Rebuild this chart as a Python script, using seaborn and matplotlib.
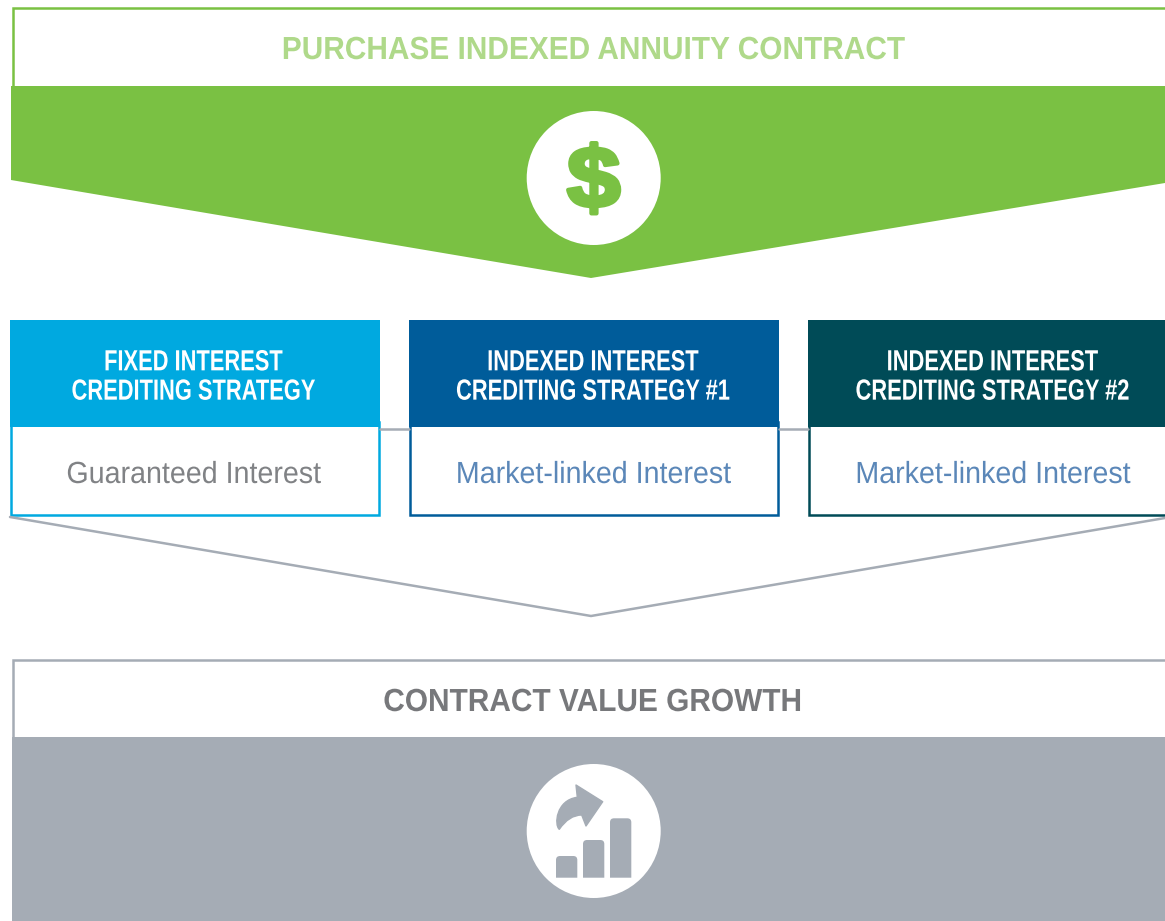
import matplotlib
matplotlib.use("Agg")
import matplotlib.pyplot as plt
import seaborn as sns
from matplotlib.patches import Rectangle, Polygon, Circle, PathPatch
from matplotlib.path import Path
from matplotlib.patheffects import AbstractPathEffect
from matplotlib.transforms import Affine2D

sns.set_theme(style="white")
plt.rcParams['font.family'] = ['Liberation Sans', 'DejaVu Sans']

GREEN = "#7AC143"
LIGHT_GREEN = "#AFD98A"
GREY = "#A5ACB5"

top_title = "PURCHASE INDEXED ANNUITY CONTRACT"
bottom_title = "CONTRACT VALUE GROWTH"
strategy_heads = ["FIXED INTEREST\nCREDITING STRATEGY",
                  "INDEXED INTEREST\nCREDITING STRATEGY #1",
                  "INDEXED INTEREST\nCREDITING STRATEGY #2"]
strategy_subs = ["Guaranteed Interest", "Market-linked Interest", "Market-linked Interest"]
strategy_colors = sns.color_palette(["#00A9E0", "#005C9A", "#004B57"])
sub_colors = ["#808285", "#5B87B8", "#5B87B8"]
box_left = [10, 409, 808]
box_right = [380, 779, 1170]
box_text_x = [193.5, 593, 992.5]


# the original type is condensed and there is no such font here, so squeeze the glyphs
class Squeeze(AbstractPathEffect):
    def __init__(self, cx, sx, stroke=0):
        super().__init__()
        self.cx = cx
        self.sx = sx
        self.stroke = stroke

    def draw_path(self, renderer, gc, tpath, affine, rgbFace=None):
        t = affine + Affine2D().translate(-self.cx, 0).scale(self.sx, 1).translate(self.cx, 0)
        if self.stroke:
            gc0 = renderer.new_gc()
            gc0.copy_properties(gc)
            gc0.set_linewidth(self.stroke)
            gc0.set_foreground(rgbFace)
            renderer.draw_path(gc0, tpath, t, rgbFace)
            gc0.restore()
        else:
            renderer.draw_path(gc, tpath, t, rgbFace)


fig = plt.figure(figsize=(11.65, 9.21), dpi=100)
ax = fig.add_axes([0, 0, 1, 1])
ax.set_xlim(0, 1165)
ax.set_ylim(921, 0)
ax.axis("off")


def put(x, y, s, sx=1.0, stroke=0, **kw):
    # x is in pixels and the axes fill the figure, so it is also the display coordinate
    ax.text(x, y, s, ha="center", va="center", path_effects=[Squeeze(x, sx, stroke)], **kw)


# top banner
ax.add_patch(Rectangle((12.5, 8.5), 1160, 80, fc="white", ec=GREEN, lw=1.8))
ax.add_patch(Polygon([(11, 86), (1165, 86), (1165, 183), (591, 278), (11, 180)], fc=GREEN, ec="none"))
put(594, 51, top_title, sx=0.934, color=LIGHT_GREEN, fontsize=23, weight="bold")
ax.add_patch(Circle((593.7, 178), 67, fc="white", ec="none"))
put(593.7, 185, "$", sx=1.12, stroke=3, color=GREEN, fontsize=62, weight="bold")

# connectors between boxes
ax.plot([380, 409], [429, 429], color=GREY, lw=1.8)
ax.plot([779, 808], [429, 429], color=GREY, lw=1.8)

# strategy boxes
for i in range(3):
    w = box_right[i] - box_left[i]
    ax.add_patch(Rectangle((box_left[i] + 1, 422), w - 2.5, 92.5, fc="white", ec=strategy_colors[i], lw=1.8))
    ax.add_patch(Rectangle((box_left[i], 320), w, 107, fc=strategy_colors[i], ec="none"))
    put(box_text_x[i], 377, strategy_heads[i], sx=0.75, color="white", fontsize=21,
        weight="bold", linespacing=1.06)
    put(box_text_x[i], 475, strategy_subs[i], sx=0.937, color=sub_colors[i], fontsize=22)

# chevron under the boxes
ax.plot([10, 591, 1165], [517, 616, 518], color=GREY, lw=1.8, solid_joinstyle="miter")

# bottom banner
ax.add_patch(Rectangle((13, 660), 1160, 80, fc="white", ec=GREY, lw=1.8))
ax.add_patch(Rectangle((12, 737), 1153, 184, fc=GREY, ec="none"))
put(593, 703, bottom_title, sx=0.934, color="#77787B", fontsize=23, weight="bold")
ax.add_patch(Circle((593.7, 831), 67, fc="white", ec="none"))

# growth icon
bar_x = [556, 583, 610]
bar_top = [856, 840, 818.3]
bar_w = 21.3
bar_base = 877.7
r = 4
for x, t in zip(bar_x, bar_top):
    bar = Path([(x, bar_base), (x, t + r), (x, t), (x + r, t), (x + bar_w - r, t),
                (x + bar_w, t), (x + bar_w, t + r), (x + bar_w, bar_base), (x, bar_base)],
               [Path.MOVETO, Path.LINETO, Path.CURVE3, Path.CURVE3, Path.LINETO,
                Path.CURVE3, Path.CURVE3, Path.LINETO, Path.CLOSEPOLY])
    ax.add_patch(PathPatch(bar, fc=GREY, ec="none"))
arrow = Path([(576, 785), (602.7, 801.7), (586, 826), (581.7, 815), (569, 815), (559.3, 829.3),
              (554, 825), (556, 800), (577.3, 797.3), (576, 785)],
             [Path.MOVETO, Path.LINETO, Path.LINETO, Path.LINETO, Path.CURVE3, Path.CURVE3,
              Path.CURVE4, Path.CURVE4, Path.CURVE4, Path.CLOSEPOLY])
ax.add_patch(PathPatch(arrow, fc=GREY, ec=GREY, lw=1, joinstyle="round"))

fig.savefig("out.png", dpi=100)
